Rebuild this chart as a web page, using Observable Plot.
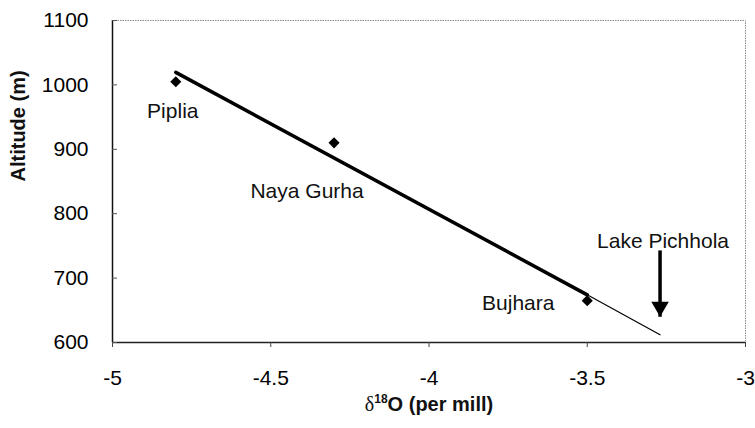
<!DOCTYPE html>
<html>
<head>
<meta charset="utf-8">
<script src="https://cdn.jsdelivr.net/npm/d3@7"></script>
<script src="https://cdn.jsdelivr.net/npm/@observablehq/plot@0.6"></script>
<style>
  html, body { margin: 0; padding: 0; background: #fff; }
  #chart { width: 755px; height: 428px; }
</style>
</head>
<body>
<div id="chart"></div>
<script>
// ---- data ----
const sites = ["Piplia", "Naya Gurha", "Bujhara"];
const d18O = [-4.8, -4.3, -3.5];
const altitude = [1005, 910, 665];

const xTicks = [-5, -4.5, -4, -3.5, -3];
const yTicks = [600, 700, 800, 900, 1000, 1100];

// thin extrapolation of the fit line towards Lake Pichhola
const extensionX = [-3.5, -3.27];
const extensionY = [674, 612];

// Lake Pichhola arrow (value of d18O, top and tip altitude)
const lakeName = ["Lake Pichhola"];
const lakeX = [-3.27];
const lakeTop = [743];
const lakeTip = [640];

const xTitle = "δ18O (per mill)";
const yTitle = "Altitude (m)";

// ---- tables built from the arrays ----
const points = sites.map((s, i) => ({site: s, x: d18O[i], y: altitude[i]}));
const extension = extensionX.map((x, i) => ({x, y: extensionY[i]}));
const lake = lakeName.map((n, i) => ({name: n, x: lakeX[i], y1: lakeTop[i], y2: lakeTip[i]}));

const labelOffsets = {
  "Piplia": {dx: -3, dy: 30},
  "Naya Gurha": {dx: -27, dy: 48},
  "Bujhara": {dx: -69, dy: 3}
};

const font = "'Liberation Sans', Arial, Helvetica, sans-serif";

const chart = Plot.plot({
  width: 755,
  height: 428,
  marginLeft: 112,
  marginRight: 10,
  marginTop: 20,
  marginBottom: 86,
  style: {fontFamily: font, fontSize: "21px", color: "#000", background: "#fff", overflow: "visible"},
  x: {domain: [-5, -3], label: null},
  y: {domain: [600, 1100], label: null},
  marks: [
    Plot.frame({stroke: "#8a8a8a", strokeDasharray: "1.5,1", strokeWidth: 1}),
    Plot.ruleX([-5], {stroke: "#111", strokeWidth: 1.5}),
    Plot.ruleY([600], {stroke: "#222", strokeWidth: 1.3}),
    Plot.axisX({ticks: xTicks, tickFormat: d => String(d), tickSize: 5, tickPadding: 23, fontSize: 21, stroke: "#444"}),
    Plot.axisY({ticks: yTicks, tickFormat: d => String(d), tickSize: 0, tickPadding: 24, fontSize: 21}),
    Plot.axisY({ticks: yTicks, text: null, tickSize: -5, stroke: "#555"}),
    // regression (thick) over the data range
    Plot.linearRegressionY(points, {x: "x", y: "y", ci: 0, stroke: "#000", strokeWidth: 3.5}),
    // thin extrapolated part
    Plot.line(extension, {x: "x", y: "y", stroke: "#000", strokeWidth: 1.2}),
    // points
    Plot.dot(points, {x: "x", y: "y", symbol: "diamond2", r: 5, fill: "#000", stroke: "none"}),
    // point labels
    ...sites.map(s => Plot.text(points.filter(p => p.site === s), {
      x: "x", y: "y", text: "site", dx: labelOffsets[s].dx, dy: labelOffsets[s].dy,
      fontSize: 21, fill: "#111", textAnchor: "middle"
    })),
    // Lake Pichhola arrow
    Plot.link(lake, {x1: "x", x2: "x", y1: "y1", y2: "y2", stroke: "#000", strokeWidth: 3.5}),
    Plot.dot(lake, {x: "x", y: "y2", symbol: "triangle", r: 6.5, rotate: 180, dy: -10, fill: "#000", stroke: "none"}),
    Plot.text(lake, {x: "x", y: "y1", text: "name", dx: 3, dy: -9, fontSize: 21, fill: "#111", textAnchor: "middle"}),
    // axis titles
    Plot.text([xTitle], {text: d => d, frameAnchor: "bottom", dy: 68, fontSize: 20, fontWeight: "bold", fill: "#111"}),
    Plot.text([yTitle], {text: d => d, frameAnchor: "left", dx: -94, rotate: -90, fontSize: 20, fontWeight: "bold", fill: "#111"})
  ]
});

// superscript in the x title
d3.select(chart).selectAll("text").filter(function() { return this.textContent === xTitle; }).each(function() {
  const t = d3.select(this);
  t.text(null);
  t.append("tspan").attr("font-family", "'Liberation Serif', 'Times New Roman', serif").attr("font-weight", "normal").text("δ");
  t.append("tspan").attr("font-size", 12).attr("dy", -8).text("18");
  t.append("tspan").attr("dy", 8).text("O (per mill)");
});

document.getElementById("chart").appendChild(chart);
</script>
</body>
</html>
